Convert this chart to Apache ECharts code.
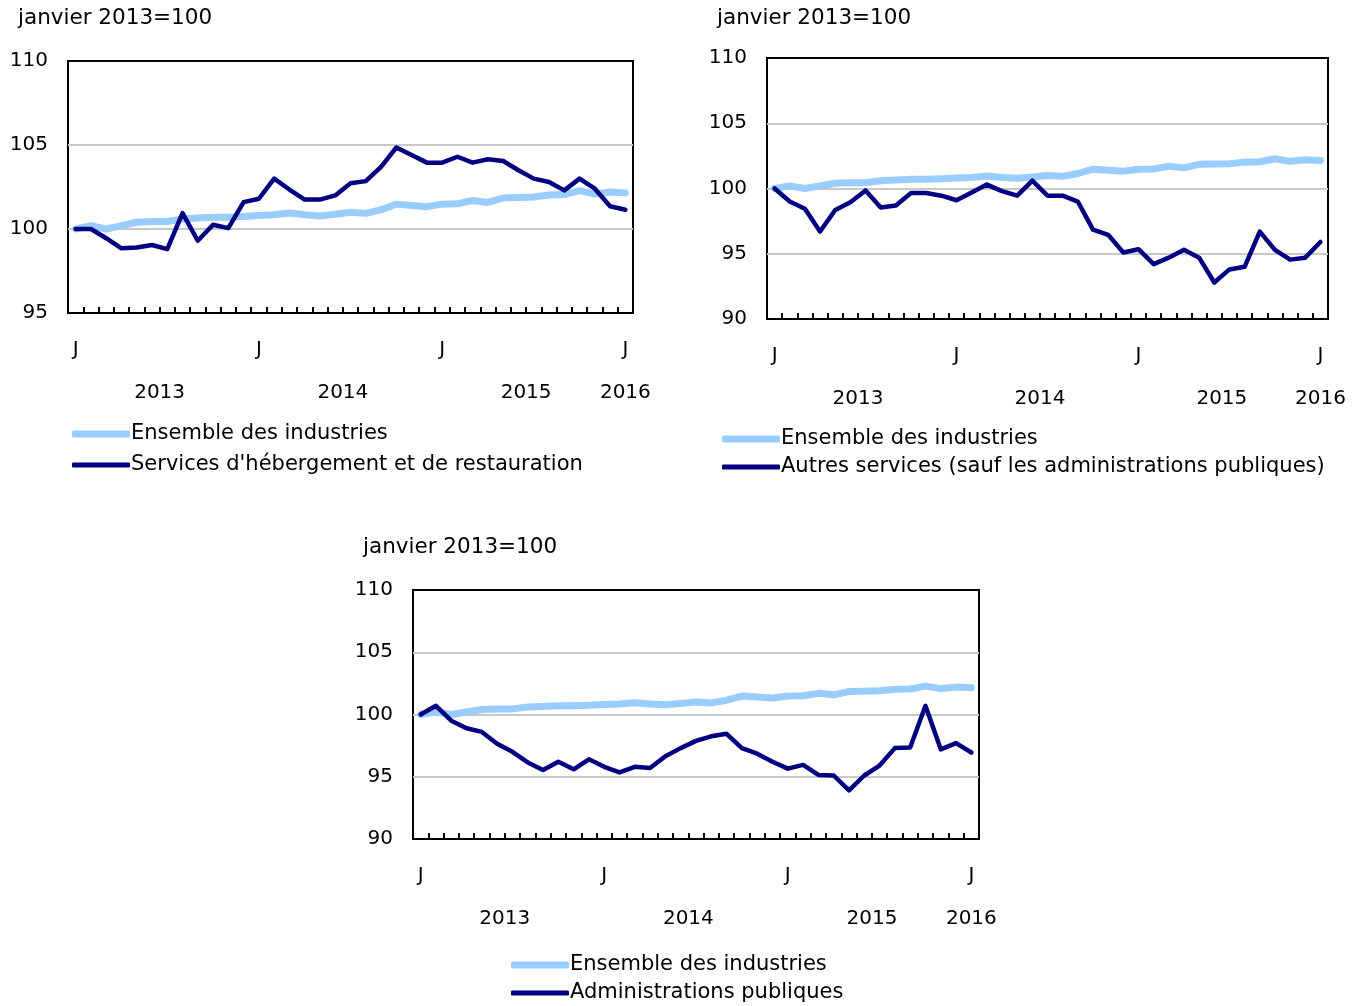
<!DOCTYPE html>
<html><head><meta charset="utf-8">
<script src="https://cdn.jsdelivr.net/npm/echarts@6/dist/echarts.min.js"></script>
<style>html,body{margin:0;padding:0;background:#fff}#c{width:1364px;height:1006px}</style>
</head><body><div id="c"></div>
<script>
// ---- data ----
const months = [
  '2013-01','2013-02','2013-03','2013-04','2013-05','2013-06','2013-07','2013-08','2013-09','2013-10','2013-11','2013-12',
  '2014-01','2014-02','2014-03','2014-04','2014-05','2014-06','2014-07','2014-08','2014-09','2014-10','2014-11','2014-12',
  '2015-01','2015-02','2015-03','2015-04','2015-05','2015-06','2015-07','2015-08','2015-09','2015-10','2015-11','2015-12',
  '2016-01'
];
const yearLabels = ['2013', '2014', '2015', '2016'];
const yearLabelAt = [5.5, 17.5, 29.5, 36];
const unitTitle = 'janvier 2013=100';

const ensemble = [100.0, 100.2, 100.0, 100.2, 100.4, 100.45, 100.45, 100.6, 100.65, 100.7, 100.7, 100.75,
  100.8, 100.85, 100.95, 100.85, 100.78, 100.88, 101.0, 100.93, 101.15, 101.48, 101.4, 101.33,
  101.48, 101.5, 101.7, 101.58, 101.85, 101.87, 101.9, 102.02, 102.05, 102.28, 102.08, 102.2, 102.15];
const hebergement = [100.0, 100.0, 99.45, 98.85, 98.9, 99.05, 98.8, 100.95, 99.3, 100.25, 100.05, 101.6,
  101.8, 103.0, 102.35, 101.75, 101.75, 102.0, 102.72, 102.85, 103.7, 104.85, 104.4, 103.95,
  103.95, 104.3, 103.95, 104.15, 104.05, 103.5, 103.0, 102.8, 102.3, 103.0, 102.4, 101.35, 101.15];
const autresServices = [100.0, 99.0, 98.45, 96.7, 98.35, 98.95, 99.85, 98.55, 98.7, 99.65, 99.65, 99.45,
  99.1, 99.7, 100.3, 99.8, 99.45, 100.6, 99.45, 99.45, 99.0, 96.85, 96.45, 95.1,
  95.35, 94.2, 94.7, 95.3, 94.7, 92.8, 93.8, 94.0, 96.7, 95.3, 94.55, 94.7, 95.9];
const adminPubliques = [100.0, 100.7, 99.5, 98.9, 98.6, 97.65, 97.0, 96.15, 95.55, 96.2, 95.6, 96.4,
  95.8, 95.35, 95.8, 95.7, 96.65, 97.3, 97.88, 98.25, 98.45, 97.3, 96.85, 96.2,
  95.65, 95.95, 95.15, 95.1, 93.9, 95.1, 95.9, 97.3, 97.35, 100.7, 97.2, 97.7, 96.95];

const nameAll = 'Ensemble des industries';
const panels = [
  {other: hebergement, otherName: "Services d'hébergement et de restauration",
   grid: {left: 68, top: 61, width: 565, height: 252}, ymin: 95, ymax: 110,
   title: {left: 18, top: 7}, legend: {left: 72, top1: 423, top2: 454}},
  {other: autresServices, otherName: 'Autres services (sauf les administrations publiques)',
   grid: {left: 767, top: 58, width: 561, height: 261}, ymin: 90, ymax: 110,
   title: {left: 717, top: 7}, legend: {left: 722, top1: 428, top2: 456}},
  {other: adminPubliques, otherName: 'Administrations publiques',
   grid: {left: 413, top: 590, width: 566, height: 249}, ymin: 90, ymax: 110,
   title: {left: 363, top: 536}, legend: {left: 511, top1: 954, top2: 982}}
];

// ---- chart ----
const FONT = 'DejaVu Sans';
const LIGHT = '#99CCFF';
const DARK = '#000080';
const option = {
  animation: false,
  backgroundColor: '#fff',
  textStyle: {fontFamily: FONT, color: '#000'},
  title: [], legend: [], grid: [], xAxis: [], yAxis: [], series: []
};
function legendFor(left, top, name, color, h) {
  return {
    orient: 'vertical', left: left, top: top, padding: 0,
    itemWidth: 58, itemHeight: h, itemGap: 0, selectedMode: false,
    icon: 'roundRect',
    itemStyle: {color: color, borderWidth: 0},
    textStyle: {fontFamily: FONT, fontSize: 21, color: '#000', lineHeight: 22, padding: [0, 0, 0, -4]},
    data: [name]
  };
}
panels.forEach((p, i) => {
  option.title.push({text: unitTitle, left: p.title.left, top: p.title.top, padding: 0,
    textStyle: {fontFamily: FONT, fontSize: 21.5, fontWeight: 'normal', color: '#000'}});
  option.grid.push(Object.assign({show: true, borderColor: '#000', borderWidth: 2,
    backgroundColor: 'transparent', containLabel: false}, p.grid));
  option.xAxis.push({
    type: 'category', gridIndex: i, data: months, boundaryGap: true,
    axisLine: {show: true, lineStyle: {color: '#000', width: 2}},
    axisTick: {show: true, inside: true, length: 6, interval: 0, lineStyle: {color: '#000', width: 2}},
    axisLabel: {interval: 0, margin: 27, fontSize: 20, fontFamily: FONT, color: '#000',
      formatter: v => v.endsWith('-01') ? 'J' : ''},
    splitLine: {show: false}
  });
  option.xAxis.push({
    type: 'value', gridIndex: i, min: -0.5, max: 36.5, interval: 0.5, position: 'bottom',
    axisLine: {show: false}, axisTick: {show: false}, splitLine: {show: false},
    axisLabel: {margin: 70, fontSize: 20, fontFamily: FONT, color: '#000',
      formatter: v => { const k = yearLabelAt.findIndex(a => Math.abs(a - v) < 1e-6); return k >= 0 ? yearLabels[k] : ''; }}
  });
  option.yAxis.push({
    type: 'value', gridIndex: i, min: p.ymin, max: p.ymax, interval: 5,
    axisLine: {show: false}, axisTick: {show: false},
    axisLabel: {margin: 20, fontSize: 20, fontFamily: FONT, color: '#000'},
    splitLine: {show: true, showMinLine: false, showMaxLine: false, lineStyle: {color: '#c8c8c8', width: 2}}
  });
  option.series.push({
    type: 'line', name: nameAll, xAxisIndex: 2 * i, yAxisIndex: i, data: ensemble,
    symbol: 'none', lineStyle: {color: LIGHT, width: 7, cap: 'round', join: 'round'}, itemStyle: {color: LIGHT}, z: 2
  });
  option.series.push({
    type: 'line', name: p.otherName, xAxisIndex: 2 * i, yAxisIndex: i, data: p.other,
    symbol: 'none', lineStyle: {color: DARK, width: 4.5, cap: 'round', join: 'round'}, itemStyle: {color: DARK}, z: 3
  });
  option.legend.push(legendFor(p.legend.left, p.legend.top1, nameAll, LIGHT, 7));
  option.legend.push(legendFor(p.legend.left, p.legend.top2, p.otherName, DARK, 5));
});
const chart = echarts.init(document.getElementById('c'), null, {renderer: 'canvas'});
chart.setOption(option);
</script></body></html>
